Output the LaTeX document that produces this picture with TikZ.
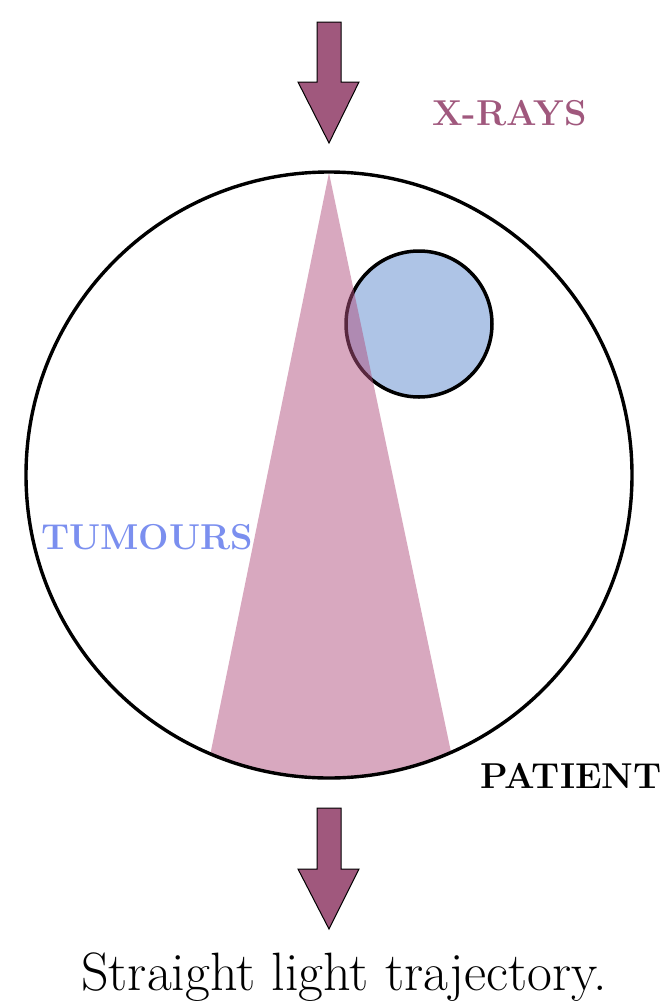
\documentclass[tikz,border=0pt]{standalone}
\usetikzlibrary{calc}
\definecolor{arrowcol}{HTML}{A0587D}
\definecolor{beamcol}{HTML}{B1517F}
\definecolor{tumcol}{HTML}{AEC4E6}
\definecolor{tumtext}{HTML}{7B8FEF}
\tikzset{
  arrowshape/.style={fill=arrowcol, draw=black, line width=0.5pt, line join=miter},
  lbl/.style={font=\fontsize{18}{22}\selectfont\bfseries, anchor=base, inner sep=0pt},
}
\begin{document}
\begin{tikzpicture}[x=0.5pt,y=-0.5pt]
\useasboundingbox (0,0) rectangle (661,1007);
% tumour
\node[circle, draw=black, line width=1.75pt, fill=tumcol, minimum size=73pt, inner sep=0pt] (tumour) at (419,324) {};
% beam clipped by patient
\begin{scope}
  \clip (329,475) circle [radius=303];
  \fill[beamcol, opacity=0.5] (329,173) -- (203,790) -- (459,790) -- cycle;
\end{scope}
% patient
\node[circle, draw=black, line width=1.7pt, minimum size=303pt, inner sep=0pt] (patient) at (329,475) {};
% arrows
\draw[arrowshape] (317,22) -- (341,22) -- (341,82) -- (359,82) -- (329,143) -- (298,82) -- (317,82) -- cycle;
\draw[arrowshape] (317,808) -- (341,808) -- (341,869) -- (359,869) -- (329,929) -- (298,869) -- (317,869) -- cycle;
% labels
\node[lbl, text=arrowcol] (xrays) at (509.5,125) {X-RAYS};
\node[lbl, text=tumtext] (tumours) at (147,549) {TUMOURS};
\node[lbl, text=black] (patlbl) at (571,788) {PATIENT};
\node[anchor=base, inner sep=0pt, font=\fontsize{27}{32}\selectfont] (caption) at (344,990) {Straight light trajectory.};
\end{tikzpicture}
\end{document}
